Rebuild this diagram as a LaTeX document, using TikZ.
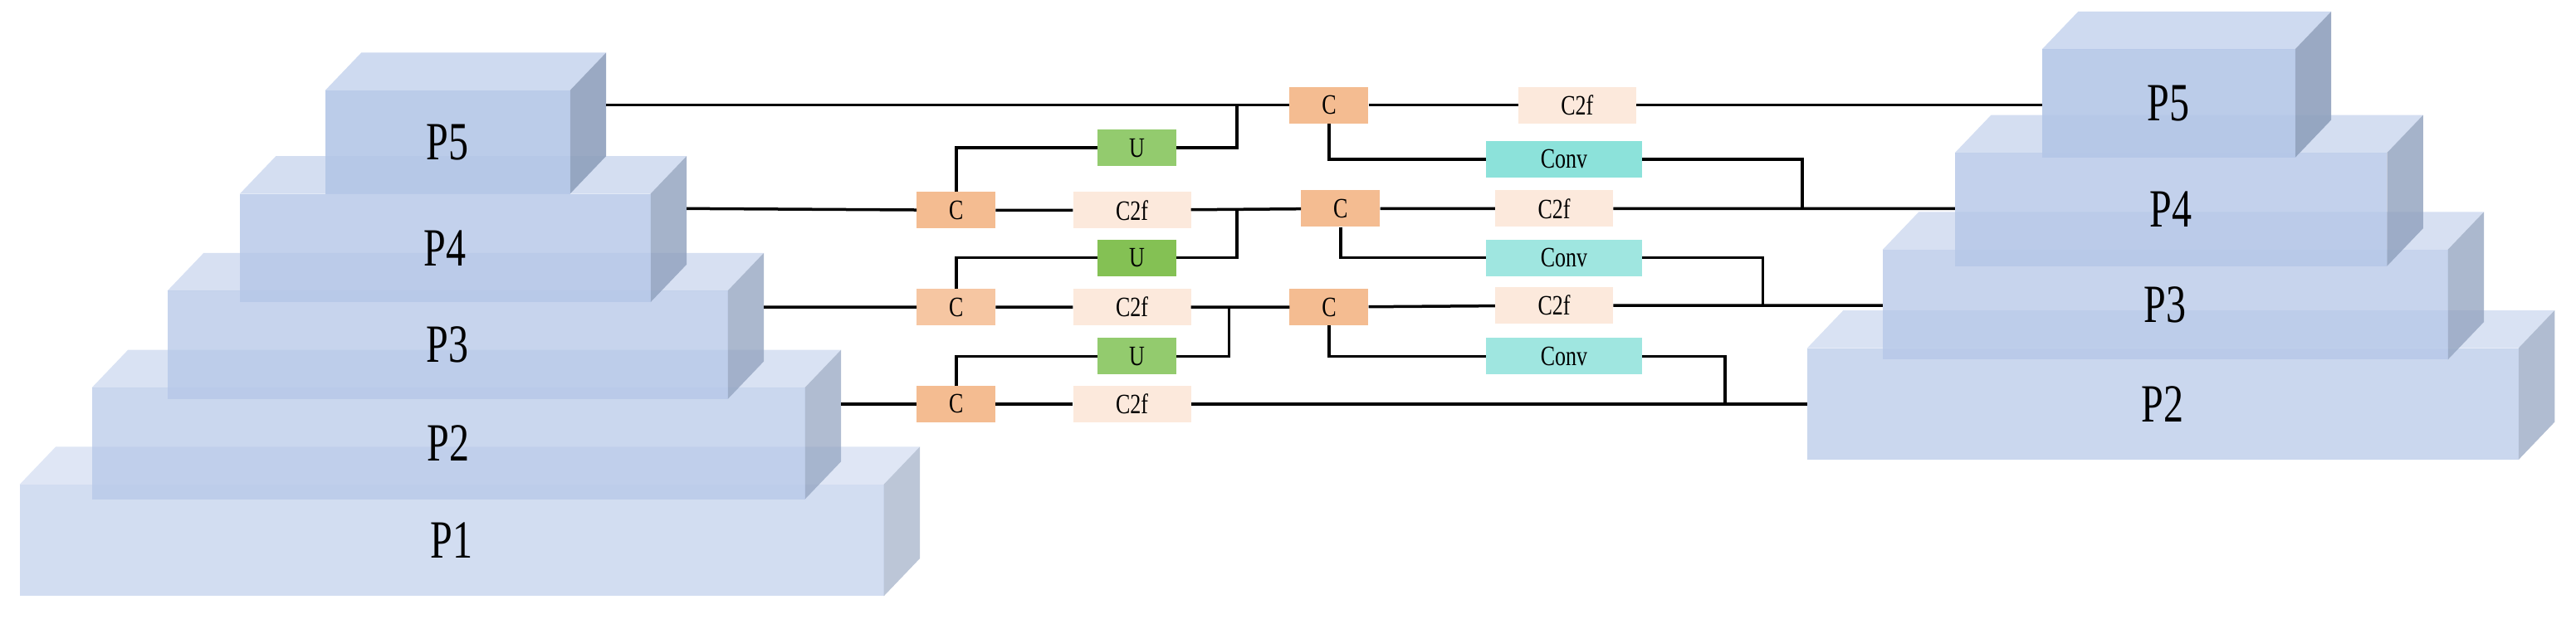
\documentclass[tikz,border=0pt]{standalone}
\usepackage{fontspec}
\setmainfont{Liberation Serif}
\definecolor{frontc}{HTML}{B4C6E7}
\definecolor{topc}{HTML}{C9D6EE}
\definecolor{sidec}{HTML}{8FA0BD}
\definecolor{corange}{HTML}{F4BC91}
\definecolor{c2fc}{HTML}{FCE9DC}
\definecolor{ugreen}{HTML}{93CB6E}
\definecolor{ugreen2}{HTML}{84C154}
\definecolor{convc}{HTML}{8CE2DA}
\definecolor{convc2}{HTML}{9FE6E0}
\newcommand\mycube[7]{%
  \fill[topc,opacity=#7] (#2,#3)--(#2+22,#3-23)--(#4+22,#3-23)--(#4,#3)--cycle;
  \fill[sidec,opacity=#7] (#4,#3)--(#4+22,#3-23)--(#4+22,#5-23)--(#4,#5)--cycle;
  \fill[frontc,opacity=#7] (#2,#3) rectangle (#4,#5);
  \node[ptext] (#1) at ({(#2+#4)/2},{(#3+#5)/2}) {#6};
}
\begin{document}
\begin{tikzpicture}[x=1.979pt,y=-1.979pt,
  ptext/.style={font=\fontsize{48}{48}\selectfont,yscale=1.35},
  blk/.style={minimum height=44pt,inner sep=0pt},
  lbl/.style={font=\fontsize{26}{26}\selectfont,yscale=1.3},
  cn/.style={blk,fill=corange,minimum width=95pt},
  fn/.style={blk,fill=c2fc,minimum width=142pt},
  un/.style={blk,fill=ugreen,minimum width=95pt},
  vn/.style={blk,fill=convc,minimum width=188pt},
  w/.style={line width=3.5pt}]
\useasboundingbox (0,0) rectangle (1568,376.5);
% left pyramid
\mycube{P1}{12}{295}{538}{363}{P1}{0.6}
\mycube{P2}{56}{236}{490}{304}{P2}{0.7}
\mycube{P3}{102}{177}{443}{243}{P3}{0.75}
\mycube{P4}{146}{118}{396}{184}{P4}{0.8}
\mycube{P5}{198}{55}{347}{118}{P5}{0.9}
% right pyramid
\mycube{Q2}{1100}{212}{1533}{280}{P2}{0.7}
\mycube{Q3}{1146}{152}{1490}{219}{P3}{0.75}
\mycube{Q4}{1190}{93}{1453}{162}{P4}{0.8}
\mycube{Q5}{1243}{30}{1397}{96}{P5}{0.9}
% blocks
\node[cn] (Ca) at (809,64) {};
\node[fn] (Fa) at (960,64) {};
\node[un] (U1) at (692,90) {};
\node[vn] (Va) at (952,97) {};
\node[cn] (Cb) at (582,128) {};
\node[fn] (Fb) at (689,128) {};
\node[cn] (Cc) at (816,127) {};
\node[fn] (Fc) at (946,127) {};
\node[un,fill=ugreen2] (U2) at (692,157) {};
\node[vn,fill=convc2] (Vb) at (952,157) {};
\node[cn,fill=corange!85!white] (Cd) at (582,187) {};
\node[fn] (Fd) at (689,187) {};
\node[cn] (Ce) at (809,187) {};
\node[fn] (Fe) at (946,186) {};
\node[un] (U3) at (692,217) {};
\node[vn,fill=convc2] (Vc) at (952,217) {};
\node[cn] (Cf) at (582,246) {};
\node[fn] (Ff) at (689,246) {};
\foreach \n/\t in {Ca/C,Cb/C,Cc/C,Cd/C,Ce/C,Cf/C,Fa/C2f,Fb/C2f,Fc/C2f,Fd/C2f,Fe/C2f,Ff/C2f,U1/U,U2/U,U3/U,Va/Conv,Vb/Conv,Vc/Conv}
  \node[lbl] (t\n) at (\n) {\t};
% coordinates
\coordinate (L5) at (369,64);
\coordinate (L4) at (418,127);
\coordinate (L3) at (465,187);
\coordinate (L2) at (512,246);
\coordinate (R5) at (1243,64);
\coordinate (R4) at (1190,127);
\coordinate (R3) at (1146,186);
\coordinate (R2) at (1100,246);
\coordinate (j1) at (753,64);
\coordinate (j2) at (753,128);
\coordinate (j3) at (748,187);
\coordinate (k1) at (1097,127);
\coordinate (k2) at (1073,186);
\coordinate (k3) at (1050,246);
% wires
\draw[w] (L5) -- (Ca) -- (Fa) -- (R5);
\draw[w] (j1) |- (U1.east);
\draw[w] (U1.west) -| (Cb.north);
\draw[w] (Ca.south) |- (Va.west);
\draw[w] (Va.east) -| (k1);
\draw[w] (L4) -- (Cb) -- (Fb) -- (Cc) -- (Fc) -- (R4);
\draw[w] (j2) |- (U2.east);
\draw[w] (U2.west) -| (Cd.north);
\draw[w] (Cc.south) |- (Vb.west);
\draw[w] (Vb.east) -| (k2);
\draw[w] (L3) -- (Cd) -- (Fd) -- (Ce) -- (Fe) -- (R3);
\draw[w] (j3) |- (U3.east);
\draw[w] (U3.west) -| (Cf.north);
\draw[w] (Ce.south) |- (Vc.west);
\draw[w] (Vc.east) -| (k3);
\draw[w] (L2) -- (Cf) -- (Ff) -- (R2);
\end{tikzpicture}
\end{document}
